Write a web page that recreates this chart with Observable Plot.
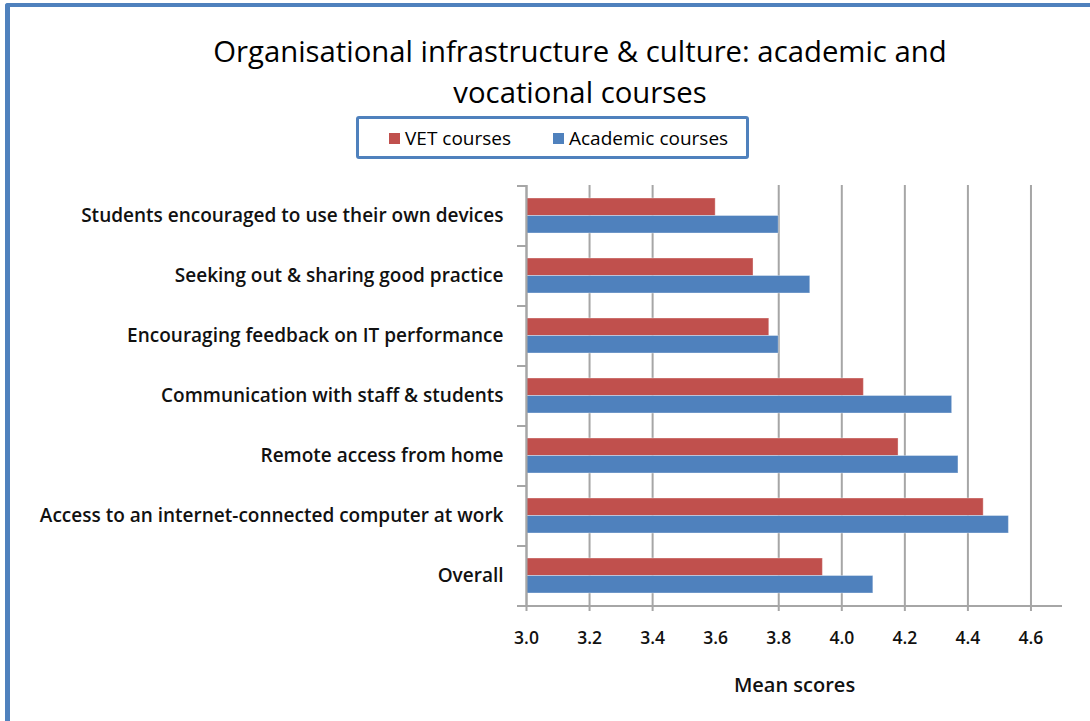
<!DOCTYPE html>
<html>
<head>
<meta charset="utf-8">
<script src="https://cdn.jsdelivr.net/npm/d3@7"></script>
<script src="https://cdn.jsdelivr.net/npm/@observablehq/plot@0.6"></script>
<style>
  html, body { margin: 0; padding: 0; background: #fff; }
  body { width: 1090px; height: 721px; position: relative; overflow: hidden; font-family: "Open Sans", Lato, sans-serif; }
  #frame { position: absolute; left: 5px; top: 3px; width: 1200px; height: 800px; border-left: 5px solid #4F81BD; border-top: 4px solid #4F81BD; border-top-left-radius: 3px; z-index: 2; pointer-events: none; }
  #title { position: absolute; left: 130px; width: 900px; top: 31px; text-align: center; font-size: 29.3px; line-height: 41px; color: #000; }
  #legend { position: absolute; left: 356px; top: 116px; width: 387px; height: 37px; border: 3px solid #4F81BD; border-radius: 3px; font-size: 19px; color: #000; }
  .item { position: absolute; top: 6px; white-space: nowrap; }
  .sw { display: inline-block; width: 11px; height: 11px; margin-right: 5px; vertical-align: 1px; }
  #chart { position: absolute; left: 0; top: 165px; }
</style>
</head>
<body>
<div id="frame"></div>
<div id="title">Organisational infrastructure &amp; culture: academic and<br>vocational courses</div>
<div id="legend"></div>
<div id="chart"></div>
<script>
const categories = [
  "Students encouraged to use their own devices",
  "Seeking out & sharing good practice",
  "Encouraging feedback on IT performance",
  "Communication with staff & students",
  "Remote access from home",
  "Access to an internet-connected computer at work",
  "Overall"
];
const series = ["VET courses", "Academic courses"];
const vetValues = [3.60, 3.72, 3.77, 4.07, 4.18, 4.45, 3.94];
const academicValues = [3.80, 3.90, 3.80, 4.35, 4.37, 4.53, 4.10];
const colors = ["#C0504D", "#4F81BD"];
const xTicks = [3.0, 3.2, 3.4, 3.6, 3.8, 4.0, 4.2, 4.4, 4.6];
const gridTicks = [3.0, 3.2, 3.4, 3.8, 4.0, 4.2, 4.4, 4.6];
const xDomain = [3.0, 4.7];
const baseline = 3.0;

const vetData = categories.map((c, i) => ({category: c, series: series[0], value: vetValues[i]}));
const acadData = categories.map((c, i) => ({category: c, series: series[1], value: academicValues[i]}));

// legend
const legend = document.getElementById("legend");
const legendPos = [30, 194];
series.forEach((s, i) => {
  const d = document.createElement("div");
  d.className = "item";
  d.style.left = legendPos[i] + "px";
  d.innerHTML = `<span class="sw" style="background:${colors[i]}"></span>${s}`;
  legend.appendChild(d);
});

const gray = "#a6a6a6";
const font = "'Open Sans', Lato, sans-serif";
const chart = Plot.plot({
  width: 1090,
  height: 556,
  marginLeft: 526,
  marginRight: 28,
  marginTop: 20,
  marginBottom: 116,
  style: {fontFamily: font, background: "transparent", overflow: "visible"},
  x: {domain: xDomain},
  y: {domain: categories, paddingInner: 25 / 60, paddingOuter: 12.5 / 60},
  color: {domain: series, range: colors},
  marks: [
    Plot.ruleX(gridTicks, {x: d => d, stroke: gray, strokeWidth: 2, insetBottom: -6}),
    Plot.barX(vetData, {x1: () => baseline, x2: "value", y: "category", fill: "series", insetBottom: 17.5, stroke: "#fff", strokeOpacity: 0.35, strokeWidth: 1}),
    Plot.barX(acadData, {x1: () => baseline, x2: "value", y: "category", fill: "series", insetTop: 17.5, stroke: "#fff", strokeOpacity: 0.35, strokeWidth: 1}),
    Plot.ruleX([baseline], {stroke: gray, strokeWidth: 2}),
    Plot.ruleY(categories, {y: d => d, dy: -30, x1: () => baseline, x2: () => baseline, insetLeft: -9, stroke: gray, strokeWidth: 2}),
    Plot.ruleY(categories.slice(-1), {y: d => d, dy: 30, x1: () => xDomain[0], x2: () => xDomain[1], insetLeft: -9, stroke: gray, strokeWidth: 2}),
    Plot.axisY({tickSize: 0, tickPadding: 23, fontSize: 19, fontWeight: 600, fill: "#111", label: null, style: {letterSpacing: "0.7px"}}),
    Plot.axisX({ticks: xTicks, tickSize: 0, tickPadding: 26, tickFormat: d3.format(".1f"), fontSize: 17.5, fontWeight: 600, fill: "#111", label: null}),
    Plot.text(["Mean scores"], {frameAnchor: "bottom", dy: 86, text: d => d, fontSize: 20, fontWeight: 600, fill: "#111"})
  ]
});
document.getElementById("chart").appendChild(chart);
</script>
</body>
</html>
